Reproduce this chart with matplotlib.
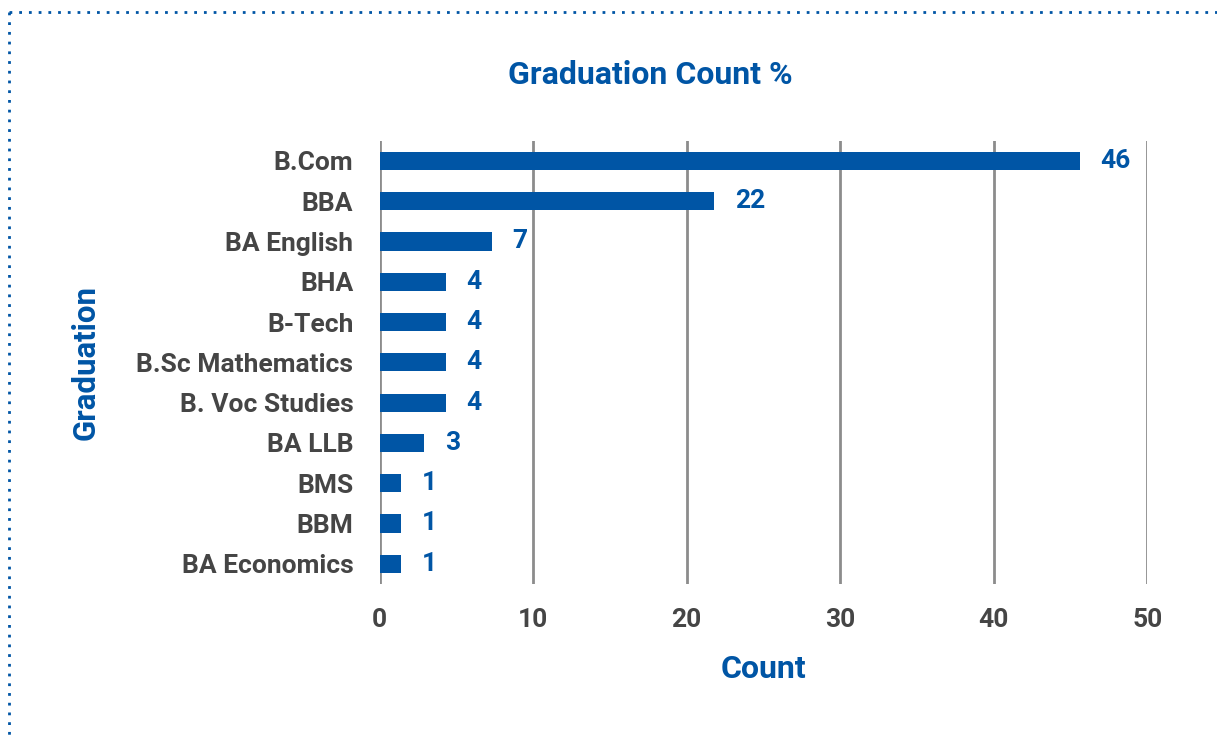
import matplotlib
matplotlib.use("Agg")
import matplotlib.pyplot as plt
from matplotlib.lines import Line2D

categories = ["B.Com", "BBA", "BA English", "BHA", "B-Tech", "B.Sc Mathematics",
              "B. Voc Studies", "BA LLB", "BMS", "BBM", "BA Economics"]
values = [45.6, 21.8, 7.3, 4.3, 4.3, 4.3, 4.3, 2.9, 1.4, 1.4, 1.4]
xticks = [0, 10, 20, 30, 40, 50]

BLUE = "#0055A5"
GRAY_TXT = "#454545"
GRID = "#8c8c8c"

plt.rcParams['font.family'] = ['Roboto', 'DejaVu Sans']

fig = plt.figure(figsize=(12.17, 7.41), dpi=100)
ax = fig.add_axes([0.312, 0.212, 0.9427 - 0.312, 0.81 - 0.212])

y = list(range(len(categories)))[::-1]
ax.barh(y, values, height=0.45, color=BLUE, zorder=3)
ax.set_ylim(-0.5, len(categories) - 0.5)
ax.set_xlim(0, 50)
ax.set_xticks(xticks)
ax.set_xticklabels([str(t) for t in xticks], fontsize=19, fontweight='bold', color=GRAY_TXT)
ax.set_yticks(y)
ax.set_yticklabels(categories, fontsize=19, fontweight='bold', color=GRAY_TXT)
ax.tick_params(axis='both', length=0)
ax.tick_params(axis='x', pad=17)
ax.tick_params(axis='y', pad=19)
for s in ax.spines.values():
    s.set_visible(False)
ax.grid(axis='x', color=GRID, linewidth=2, zorder=1)
ax.grid(axis='y', visible=False)

for yi, v in zip(y, values):
    ax.annotate(f"{v:.0f}", xy=(v, yi), xytext=(15, 0), textcoords='offset points',
                va='center', ha='left', fontsize=19, fontweight='bold', color=BLUE)

ax.set_xlabel("Count", fontsize=23, fontweight='bold', color=BLUE, labelpad=16)
ax.set_ylabel("Graduation", fontsize=22.5, fontweight='bold', color=BLUE, labelpad=26)
fig.text(0.534, 0.899, "Graduation Count %", ha='center', va='center',
         fontsize=23, fontweight='bold', color=BLUE)

# dotted frame (top and left)
fig.add_artist(Line2D([9/1217, 1], [1 - 12/741, 1 - 12/741], transform=fig.transFigure,
                      color=BLUE, linestyle=(0, (1, 2.5)), linewidth=2))
fig.add_artist(Line2D([9/1217, 9/1217], [1 - 12/741, 1 - 737/741], transform=fig.transFigure,
                      color=BLUE, linestyle=(0, (1, 2.5)), linewidth=2))

fig.savefig("out.png", dpi=100)
